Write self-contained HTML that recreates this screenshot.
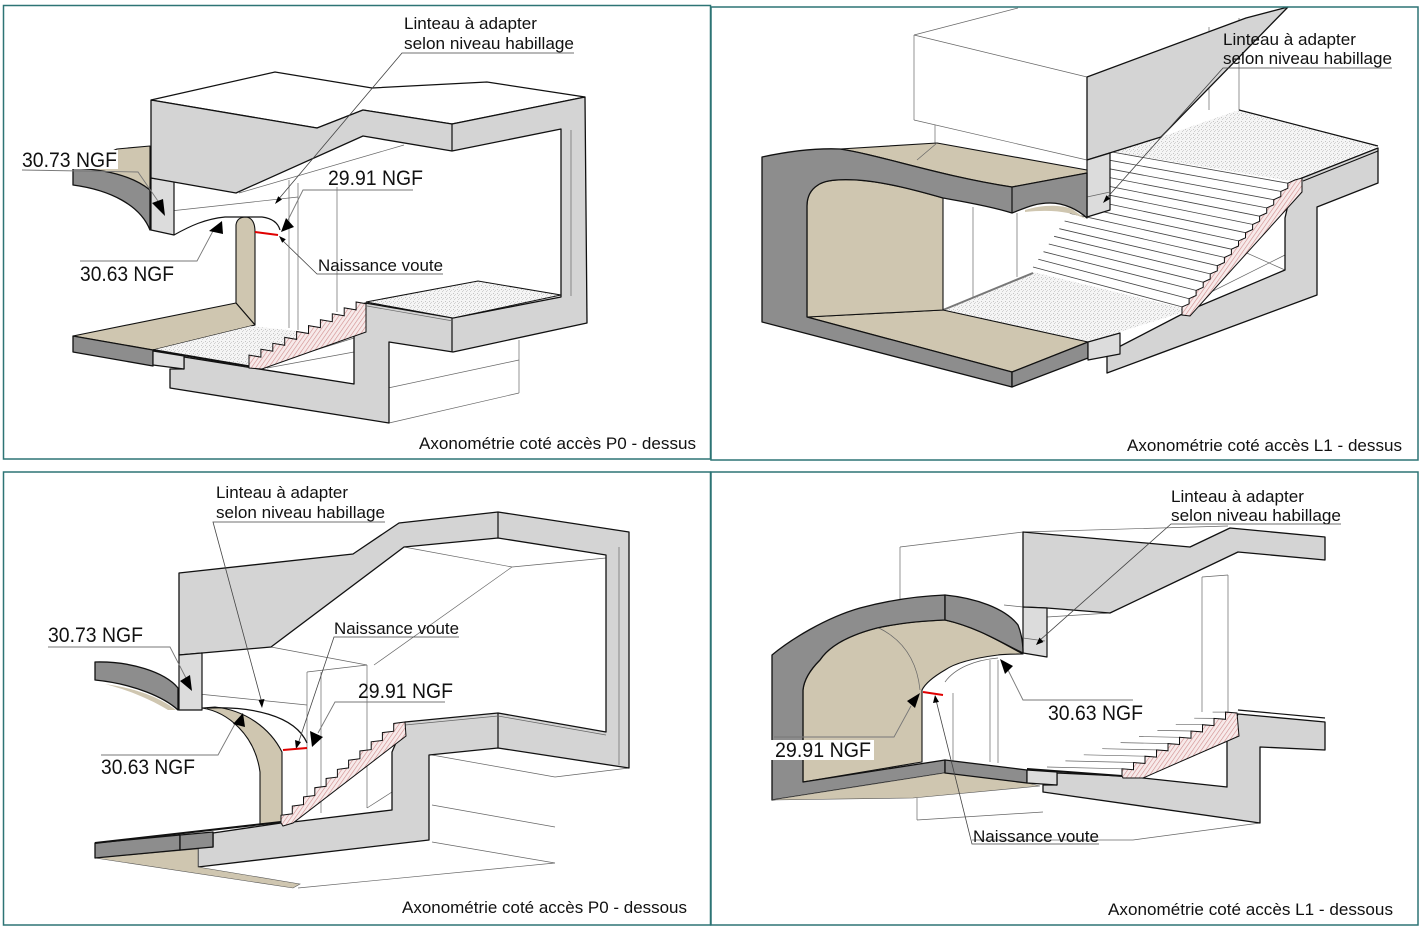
<!DOCTYPE html>
<html><head><meta charset="utf-8"><style>
html,body{margin:0;padding:0;background:#fff;}
svg{display:block;}
text{font-family:"Liberation Sans",Arial,sans-serif;fill:#111;}
.g{fill:#d4d4d4;stroke:#111;stroke-width:1.3;stroke-linejoin:round}
.d{fill:#8d8d8d;stroke:#111;stroke-width:1.3;stroke-linejoin:round}
.t{fill:#cfc6b0;stroke:#111;stroke-width:1.1;stroke-linejoin:round}
.l{fill:#dcdcdc;stroke:#111;stroke-width:1.2;stroke-linejoin:round}
.s{fill:url(#spk);stroke:#111;stroke-width:1}
.h{fill:url(#hat);stroke:#111;stroke-width:1}
.th{stroke:#666;stroke-width:0.7;fill:none}
.ld{stroke:#777;stroke-width:0.9;fill:none}
.bk{stroke:#111;stroke-width:1.2;fill:none}
.sl{stroke:#444;stroke-width:0.8;fill:none}
.frame{fill:none;stroke:#2d7475;stroke-width:1.5}
</style></head><body>
<svg width="1423" height="932" viewBox="0 0 1423 932" xmlns="http://www.w3.org/2000/svg">
<defs>
<pattern id="spk" width="4" height="4" patternUnits="userSpaceOnUse">
<rect width="4" height="4" fill="#f5f5f5"/>
<rect x="1" y="1" width="1" height="1" fill="#c4c4c4"/>
<rect x="3" y="2" width="1" height="1" fill="#d6d6d6"/>
<rect x="2" y="3" width="1" height="1" fill="#cfcfcf"/>
</pattern>
<pattern id="hat" width="3.5" height="3.5" patternUnits="userSpaceOnUse" patternTransform="rotate(35)">
<rect width="3.5" height="3.5" fill="#f7eaea"/>
<rect width="0.6" height="3.5" fill="#d08c8c"/>
</pattern>
</defs>
<rect width="1423" height="932" fill="#fff"/>

<!-- ================= PANEL 1 ================= -->
<g class="th">
<line x1="241" y1="115" x2="372" y2="88"/>
<line x1="372" y1="88" x2="462" y2="120"/>
<line x1="289" y1="180" x2="289" y2="328"/>
<line x1="298" y1="183" x2="298" y2="330"/>
<line x1="337" y1="187" x2="337" y2="312"/>
<line x1="152" y1="213" x2="298" y2="197"/>
<line x1="239" y1="193" x2="404" y2="145"/>
<line x1="388" y1="388" x2="519" y2="360"/>
<line x1="519" y1="340" x2="519" y2="393"/>
<line x1="389" y1="423" x2="519" y2="393"/>
<line x1="267" y1="368" x2="354" y2="352"/>
<line x1="290" y1="358" x2="354" y2="338"/>
</g>
<polygon points="151,100 275,72 372,88 487,82 585,97 452,124 363,110 317,128" fill="#fff" stroke="#111" stroke-width="1.2"/>
<!-- left vault piece -->
<polygon class="t" points="73,168 117,149 150,146 150,190"/>
<path class="d" d="M73,168 Q125,170 150,190 L150,230 C140,205 110,190 73,185 Z"/>
<path class="l" d="M151,178 L174,181 L174,235 L151,230 Z"/>
<!-- main section -->
<path class="g" d="M151,100 L317,128 L363,110 L452,124 L585,97 L587,323 L453,352 L389,342 L389,423 L170,388 L170,369 L184,369 L184,357 L253,368 L354,384 L354,334 L365,332 L365,303 L453,318 L561,297 L561,129 L452,151 L363,136 L236,193 L151,178 Z"/>
<line class="bk" x1="452" y1="124" x2="452" y2="151"/>
<line class="bk" x1="452" y1="318" x2="452" y2="352"/>
<line class="th" x1="571" y1="130" x2="571" y2="296"/>
<!-- tan pier + arc -->
<path class="t" d="M236,303 L236,225 Q237,217 246,217 Q255,218 255,232 L255,325 Z"/>
<path class="bk" d="M174,235 C190,226 205,219 225,217 L262,217 Q277,219 280,230"/>
<!-- left slab & floor -->
<polygon class="t" points="73,336 236,303 255,325 153,350"/>
<polygon class="d" points="73,336 153,350 153,366 73,352"/>
<polygon points="153,350 251,326 315,333 249,362 253,368" fill="url(#spk)"/>
<polygon class="l" points="153,351 184,356 184,369 153,365"/>
<line x1="153" y1="350" x2="253" y2="367" stroke="#111" stroke-width="2"/>
<!-- landing -->
<polygon class="s" points="366,302 478,281 561,295 453,318"/>
<line class="th" x1="367" y1="306" x2="453" y2="321"/>
<!-- stair -->
<polygon class="h" points="249,363 249,355.1 260.9,357.1 260.9,349.2 272.8,351.2 272.8,343.3 284.7,345.3 284.7,337.4 296.6,339.4 296.6,331.5 308.5,333.5 308.5,325.6 320.4,327.6 320.4,319.7 332.3,321.7 332.3,313.8 344.2,315.8 344.2,307.9 356.1,309.9 356.1,302 366,303.7 366,332 262,369 249,368"/>
<!-- labels -->
<rect x="20" y="150" width="98" height="19" fill="#fff"/>
<text x="22" y="167" font-size="21" textLength="95" lengthAdjust="spacingAndGlyphs">30.73 NGF</text>
<polyline class="ld" points="22,170 138,172 160,204"/>
<polygon points="152,203 163,199 165,216" fill="#000"/>
<text x="328" y="185" font-size="21" textLength="95" lengthAdjust="spacingAndGlyphs">29.91 NGF</text>
<polyline class="ld" points="413,190 303,190 288,220"/>
<polygon points="281,232 286,218 294,227" fill="#000"/>
<text x="80" y="281" font-size="21" textLength="94" lengthAdjust="spacingAndGlyphs">30.63 NGF</text>
<polyline class="ld" points="80,261 197,261 213,231"/>
<polygon points="209,231 222,221 223,234" fill="#000"/>
<text x="318" y="271" font-size="17" textLength="125" lengthAdjust="spacingAndGlyphs">Naissance voute</text>
<polyline class="sl" points="443,274 317,274 282,240"/>
<polygon points="279,236 285.8,239.2 282.2,242.8" fill="#000"/>
<line x1="255" y1="232" x2="278" y2="235" stroke="#e00000" stroke-width="2"/>
<text x="404" y="29" font-size="17" textLength="133" lengthAdjust="spacingAndGlyphs">Linteau à adapter</text>
<text x="404" y="49" font-size="17" textLength="170" lengthAdjust="spacingAndGlyphs">selon niveau habillage</text>
<polyline class="sl" points="574,53 402,53 277,201"/>
<polygon points="275,204 282,199.5 278.2,196.3" fill="#000"/>
<text x="419" y="449" font-size="16.5" textLength="277" lengthAdjust="spacingAndGlyphs">Axonométrie coté accès P0 - dessus</text>

<!-- ================= PANEL 2 ================= -->
<g class="th">
<line x1="914" y1="35" x2="1018" y2="8"/>
<line x1="914" y1="35" x2="914" y2="120"/>
<line x1="914" y1="120" x2="1087" y2="160"/>
<line x1="914" y1="35" x2="1087" y2="77"/>
<line x1="935" y1="125" x2="935" y2="145"/>
<line x1="1209" y1="27" x2="1209" y2="110"/>
<line x1="1239" y1="18" x2="1239" y2="110"/>
<line x1="973" y1="207" x2="973" y2="297"/>
<line x1="1017" y1="213" x2="1017" y2="277"/>
<line x1="1240" y1="250" x2="1285" y2="270"/>
<line x1="1195" y1="300" x2="1285" y2="255"/>
</g>
<polygon points="1161,137 1239,110 1378,146 1302,178 1290,181 1115,152" fill="url(#spk)"/>
<polyline class="bk" points="1239,110 1378,146"/>
<g class="sl">
<line x1="1033" y1="267" x2="1182" y2="306.9"/>
<line x1="1038.3" y1="259.3" x2="1189.1" y2="298.7"/>
<line x1="1043.5" y1="251.7" x2="1196.1" y2="290.4"/>
<line x1="1048.8" y1="244" x2="1203.2" y2="282.2"/>
<line x1="1054.1" y1="236.3" x2="1210.2" y2="273.9"/>
<line x1="1059.3" y1="228.7" x2="1217.3" y2="265.7"/>
<line x1="1064.6" y1="221" x2="1224.4" y2="257.4"/>
<line x1="1069.9" y1="213.3" x2="1231.4" y2="249.2"/>
<line x1="1075.1" y1="205.7" x2="1238.5" y2="240.9"/>
<line x1="1080.4" y1="198" x2="1245.5" y2="232.7"/>
<line x1="1085.7" y1="190.3" x2="1252.6" y2="224.4"/>
<line x1="1090.9" y1="182.7" x2="1259.6" y2="216.2"/>
<line x1="1096.2" y1="175" x2="1266.7" y2="207.9"/>
<line x1="1101.5" y1="167.3" x2="1273.7" y2="199.7"/>
<line x1="1106.7" y1="159.7" x2="1280.8" y2="191.4"/>
<line x1="1112" y1="152" x2="1287.8" y2="183.2"/>
</g>
<polygon points="943,311 1033,272 1190,310 1088,342" fill="url(#spk)"/>
<line x1="943" y1="310" x2="1033" y2="273" stroke="#777" stroke-width="2"/>
<path class="g" d="M1107,353 L1190,310 L1285,270 L1285,218 L1293,183 L1302,178 L1378,148 L1378,183 L1317,207 L1317,295 L1107,373 Z"/>
<line class="bk" x1="1303" y1="181" x2="1378" y2="151"/>
<polygon class="h" points="1182,312 1182,306.9 1189.1,303.8 1189.1,298.7 1196.1,295.5 1196.1,290.4 1203.2,287.3 1203.2,282.2 1210.2,279 1210.2,273.9 1217.3,270.8 1217.3,265.7 1224.4,262.5 1224.4,257.4 1231.4,254.3 1231.4,249.2 1238.5,246 1238.5,240.9 1245.5,237.8 1245.5,232.7 1252.6,229.5 1252.6,224.4 1259.6,221.3 1259.6,216.2 1266.7,213 1266.7,207.9 1273.7,204.8 1273.7,199.7 1280.8,196.5 1280.8,191.4 1287.8,188.3 1287.8,183.2 1294.9,180 1302,178 1302,192 1190,316 1182,315"/>
<!-- grey face + lintel -->
<polygon class="g" points="1087,77 1246,18 1288,7 1161,137 1087,160"/>
<polygon class="l" points="1087,160 1110,153 1110,210 1087,217"/>
<line class="th" x1="1087" y1="197" x2="1110" y2="192"/>
<!-- vault shell -->
<polygon class="t" points="807,317 943,310 1088,342 1012,372"/>
<path class="t" d="M807,317 L807,206 C807,198 810,190 818,185 C825,180 840,179 857,180 C885,182 915,190 943,198 L943,310 Z"/>
<path class="t" d="M840,149 L937,143 L1087,170 L1087,173 L1012,187 C940,176 880,155 840,149 Z"/>
<line class="th" x1="937" y1="143" x2="917" y2="160"/>
<path class="d" d="M762,157 C790,151 815,148 840,149 C880,155 940,176 1012,187 L1087,173 L1087,218 C1078,210 1065,203 1050,203 C1035,203 1025,208 1012,213 C990,206 960,201 943,198 C915,190 885,182 857,180 C840,179 825,180 818,185 C810,190 807,198 807,206 L807,317 L1012,372 L1012,387 L762,322 Z"/>
<path d="M1025,210 C1040,205 1060,204 1072,209 L1086,219 C1072,212 1052,209 1025,212 Z" fill="#cfc6b0"/>
<line class="bk" x1="1012" y1="187" x2="1012" y2="213"/>
<polygon class="d" points="1012,372 1088,342 1088,358 1012,387"/>
<polygon class="l" points="1088,342 1120,333 1120,354 1088,360"/>
<!-- labels -->
<text x="1223" y="45" font-size="17" textLength="133" lengthAdjust="spacingAndGlyphs">Linteau à adapter</text>
<text x="1223" y="64" font-size="17" textLength="169" lengthAdjust="spacingAndGlyphs">selon niveau habillage</text>
<polyline class="sl" points="1392,68 1223,68 1105,200"/>
<polygon points="1103,203 1110.2,198.7 1106.4,195.3" fill="#000"/>
<text x="1127" y="451" font-size="16.5" textLength="275" lengthAdjust="spacingAndGlyphs">Axonométrie coté accès L1 - dessus</text>

<!-- ================= PANEL 3 ================= -->
<g class="th">
<line x1="404" y1="547" x2="512" y2="567"/>
<line x1="512" y1="567" x2="606" y2="558"/>
<line x1="512" y1="567" x2="374" y2="665"/>
<line x1="271" y1="647" x2="367" y2="665"/>
<line x1="367" y1="665" x2="307" y2="672"/>
<line x1="307" y1="672" x2="307" y2="812"/>
<line x1="321" y1="672" x2="321" y2="813"/>
<line x1="367" y1="665" x2="367" y2="808"/>
<line x1="179" y1="692" x2="307" y2="705"/>
<line x1="432" y1="755" x2="555" y2="777"/>
<line x1="555" y1="777" x2="629" y2="768"/>
<line x1="432" y1="805" x2="555" y2="827"/>
<line x1="432" y1="842" x2="555" y2="863"/>
<line x1="298" y1="888" x2="555" y2="863"/>
<line x1="367" y1="808" x2="392" y2="792"/>
</g>
<path class="d" d="M95,662 C130,661 165,672 178,688 L178,710 C165,698 135,684 95,680 Z"/>
<path d="M105,684 C140,689 162,699 176,710 L168,710 C150,699 128,690 105,684 Z" fill="#cfc6b0"/>
<path class="g" d="M179,573 L353,554 L399,523 L498,512 L629,532 L629,768 L498,748 L429,755 L429,840 L198,867 L198,847 L213,847 L213,833 L281,823 L293,822 L392,810 L392,752 L405,722 L498,713 L606,732 L606,555 L498,538 L404,547 L271,647 L202,653 L179,655 Z"/>
<line class="bk" x1="498" y1="512" x2="498" y2="538"/>
<line class="bk" x1="498" y1="713" x2="498" y2="748"/>
<line class="th" x1="619" y1="547" x2="619" y2="765"/>
<line class="th" x1="405" y1="725" x2="498" y2="716"/>
<line class="th" x1="498" y1="716" x2="606" y2="735"/>
<path class="l" d="M179,655 L202,653 L202,710 L179,710 Z"/>
<path class="t" d="M202,708 C228,712 255,735 260,772 L260,824 L282,822 L282,752 C270,728 245,710 215,707 Z"/>
<path class="bk" d="M207,708 C250,706 295,715 307,743"/>
<polygon points="95,858 198,849 198,867 300,884 293,888" fill="#cfc6b0" stroke="#555" stroke-width="0.6"/>
<polygon class="d" points="95,843 180,835 180,850 95,858"/>
<polygon class="d" points="180,835 213,832 213,847 180,850"/>
<line x1="95" y1="843" x2="281" y2="822" stroke="#111" stroke-width="2"/>
<polygon class="h" points="281,823 281,815.3 292.3,813.8 292.3,806.1 303.5,804.6 303.5,796.9 314.8,795.5 314.8,787.7 326.1,786.3 326.1,778.5 337.4,777.1 337.4,769.4 348.6,767.9 348.6,760.2 359.9,758.7 359.9,751 371.2,749.6 371.2,741.8 382.4,740.4 382.4,732.6 393.7,731.2 393.7,723.5 405,722 406,736 293,823 283,826"/>
<!-- labels -->
<text x="216" y="498" font-size="17" textLength="132" lengthAdjust="spacingAndGlyphs">Linteau à adapter</text>
<text x="216" y="518" font-size="17" textLength="169" lengthAdjust="spacingAndGlyphs">selon niveau habillage</text>
<polyline class="sl" points="385,522 213,522 262,703"/>
<polygon points="262,708 258.5,700 264.5,699" fill="#000"/>
<text x="48" y="642" font-size="21" textLength="95" lengthAdjust="spacingAndGlyphs">30.73 NGF</text>
<polyline class="ld" points="48,647 170,647 186,678"/>
<polygon points="180,681 190,675 192,691" fill="#000"/>
<text x="358" y="698" font-size="21" textLength="95" lengthAdjust="spacingAndGlyphs">29.91 NGF</text>
<polyline class="ld" points="445,702 335,702 318,733"/>
<polygon points="312,747 310,731 323,737" fill="#000"/>
<text x="101" y="774" font-size="21" textLength="94" lengthAdjust="spacingAndGlyphs">30.63 NGF</text>
<polyline class="ld" points="101,755 218,755 236,722"/>
<polygon points="233,724 243,713 245,727" fill="#000"/>
<text x="334" y="634" font-size="17" textLength="125" lengthAdjust="spacingAndGlyphs">Naissance voute</text>
<polyline class="sl" points="459,637 334,637 298,744"/>
<polygon points="296,749 295,740 301,742" fill="#000"/>
<line x1="283" y1="750" x2="307" y2="748" stroke="#e00000" stroke-width="2"/>
<text x="402" y="913" font-size="16.5" textLength="285" lengthAdjust="spacingAndGlyphs">Axonométrie coté accès P0 - dessous</text>

<!-- ================= PANEL 4 ================= -->
<g class="th">
<line x1="900" y1="547" x2="1023" y2="532"/>
<line x1="900" y1="547" x2="900" y2="603"/>
<line x1="1023" y1="532" x2="1228" y2="526"/>
<line x1="1202" y1="577" x2="1202" y2="712"/>
<line x1="1228" y1="575" x2="1228" y2="712"/>
<line x1="1202" y1="577" x2="1228" y2="575"/>
<line x1="1047" y1="617" x2="1110" y2="613"/>
<line x1="1004" y1="605" x2="1023" y2="607"/>
<line x1="917" y1="798" x2="917" y2="820"/>
<line x1="917" y1="820" x2="1043" y2="812"/>
<line x1="972" y1="840" x2="1133" y2="840"/>
<line x1="1133" y1="840" x2="1260" y2="823"/>
<line x1="953" y1="693" x2="953" y2="762"/>
<line x1="990" y1="660" x2="990" y2="762"/>
<line x1="998" y1="660" x2="998" y2="763"/>
</g>
<polygon class="g" points="1023,532 1190,547 1230,528 1325,537 1325,560 1238,552 1110,613 1047,608 1023,607"/>
<polygon class="l" points="1023,607 1047,608 1047,657 1023,653"/>
<line class="th" x1="1023" y1="638" x2="1045" y2="641"/>
<!-- shell -->
<path class="t" d="M803,782 L803,690 C804,680 810,670 820,660 C830,645 850,635 877,628 C895,624 920,621 945,620 C980,628 1005,645 1023,654 C1012,654 1003,654 998,655 C975,658 955,663 945,670 C933,677 925,684 922,690 L922,762 Z"/>
<path class="th" d="M879,628 C903,640 917,660 920,690"/>
<path class="th" d="M945,682 C955,668 975,660 998,658"/>
<path class="d" d="M772,655 C790,640 825,618 860,608 C890,600 920,596 945,595 L945,620 C920,621 895,624 877,628 C850,635 830,645 820,660 C810,670 804,680 803,690 L803,782 L945,760 L945,773 L772,800 Z"/>
<path class="d" d="M945,595 C975,598 1005,608 1018,625 C1022,635 1023,645 1023,653 C1005,645 980,628 945,620 Z"/>
<polygon points="772,800 945,773 1027,783 1040,786 913,798" fill="#cfc6b0" stroke="#555" stroke-width="0.6"/>
<polygon class="d" points="945,760 1027,770 1027,783 945,773"/>
<!-- lower grey -->
<path class="g" d="M1043,792 L1043,785 L1057,785 L1057,773 L1122,776 L1143,778 L1227,787 L1227,738 L1238,714 L1325,722 L1325,750 L1260,747 L1260,823 Z"/>
<polygon class="l" points="1027,770 1057,772 1057,785 1027,783"/>
<line x1="1027" y1="769" x2="1122" y2="776" stroke="#111" stroke-width="2"/>
<line class="bk" x1="1238" y1="710" x2="1325" y2="718"/>
<g class="th">
<line x1="1047" y1="767" x2="1122" y2="768.8"/>
<line x1="1065.4" y1="760.9" x2="1133.5" y2="762.5"/>
<line x1="1083.8" y1="754.8" x2="1145" y2="756.2"/>
<line x1="1102.2" y1="748.7" x2="1156.5" y2="749.9"/>
<line x1="1120.6" y1="742.6" x2="1168" y2="743.6"/>
<line x1="1139" y1="736.5" x2="1179.5" y2="737.3"/>
<line x1="1157.4" y1="730.4" x2="1191" y2="731"/>
<line x1="1175.8" y1="724.3" x2="1202.5" y2="724.7"/>
<line x1="1194.2" y1="718.2" x2="1214" y2="718.4"/>
<line x1="1212.6" y1="712.1" x2="1225.5" y2="712.1"/>
</g>
<polygon class="h" points="1122,776 1122,768.8 1133.5,769.7 1133.5,762.5 1145,763.4 1145,756.2 1156.5,757.1 1156.5,749.9 1168,750.8 1168,743.6 1179.5,744.5 1179.5,737.3 1191,738.2 1191,731 1202.5,731.9 1202.5,724.7 1214,725.6 1214,718.4 1225.5,719.3 1225.5,712.1 1237,713 1239,736 1143,778 1123,778"/>
<!-- labels -->
<text x="1171" y="502" font-size="17" textLength="133" lengthAdjust="spacingAndGlyphs">Linteau à adapter</text>
<text x="1171" y="521" font-size="17" textLength="170" lengthAdjust="spacingAndGlyphs">selon niveau habillage</text>
<polyline class="sl" points="1341,524 1171,524 1039,641"/>
<polygon points="1036,645 1039.5,637.5 1043.5,642" fill="#000"/>
<text x="1048" y="720" font-size="21" textLength="95" lengthAdjust="spacingAndGlyphs">30.63 NGF</text>
<polyline class="ld" points="1133,700 1023,700 1008,670"/>
<polygon points="1000,659 1013,666 1005,674" fill="#000"/>
<rect x="771" y="740" width="103" height="20" fill="#fff"/>
<text x="775" y="757" font-size="21" textLength="96" lengthAdjust="spacingAndGlyphs">29.91 NGF</text>
<polyline class="ld" points="774,737 894,737 911,706"/>
<polygon points="920,693 907,701 915,708" fill="#000"/>
<text x="973" y="842" font-size="17" textLength="126" lengthAdjust="spacingAndGlyphs">Naissance voute</text>
<polyline class="sl" points="1099,844 972,844 936,700"/>
<polygon points="935,695 933,703 939,702" fill="#000"/>
<line x1="923" y1="692" x2="943" y2="695" stroke="#e00000" stroke-width="2"/>
<text x="1108" y="915" font-size="16.5" textLength="285" lengthAdjust="spacingAndGlyphs">Axonométrie coté accès L1 - dessous</text>

<!-- frames -->
<rect class="frame" x="3.5" y="5.5" width="707" height="453.5"/>
<rect class="frame" x="711" y="7" width="707" height="453"/>
<rect class="frame" x="3.5" y="472" width="707" height="453"/>
<rect class="frame" x="711" y="472" width="707" height="453"/>
</svg>
</body></html>
